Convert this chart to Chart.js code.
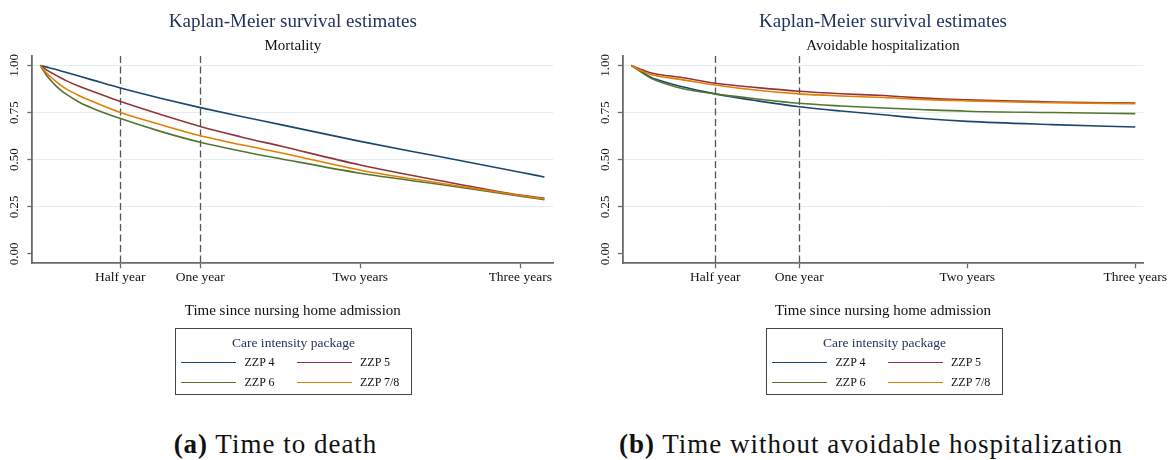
<!DOCTYPE html>
<html lang="en">
<head>
<meta charset="UTF-8">
<title>Kaplan-Meier survival estimates</title>
<script src="https://cdn.jsdelivr.net/npm/chart.js"></script>
<style>
    body {
        margin: 0;
        width: 1168px;
        height: 460px;
        overflow: hidden;
        position: relative;
        background: #fff;
        font-family: 'Liberation Serif', serif;
        color: #111;
    }
    canvas { position: absolute; top: 0; }
    #kmDeath { left: 0; }
    #kmHosp { left: 584px; }
    .lg-box {
        position: absolute;
        top: 328px;
        width: 237px;
        height: 67px;
        box-sizing: border-box;
        border: 1px solid #444;
    }
    .lg-title {
        position: absolute;
        width: 237px;
        text-align: center;
        font-size: 13.5px;
        line-height: 20px;
        color: #1f2f5e;
        white-space: nowrap;
    }
    .lg-swatch { position: absolute; height: 1.6px; width: 54.5px; }
    .lg-label {
        position: absolute;
        font-size: 12px;
        line-height: 20px;
        white-space: nowrap;
    }
    .caption {
        position: absolute;
        top: 428.5px;
        width: 600px;
        text-align: center;
        font-size: 27px;
        line-height: 30px;
        letter-spacing: 1px;
        white-space: nowrap;
    }
</style>
</head>
<body>

<canvas id="kmDeath" width="584" height="330"></canvas>
<canvas id="kmHosp" width="584" height="330"></canvas>

<div class="caption" style="left:-24.5px"><b>(a)</b> Time to death</div>
<div class="caption" style="left:571px"><b>(b)</b> Time without avoidable hospitalization</div>

<script>
    // series
    const seriesNames = ["ZZP 4", "ZZP 5", "ZZP 6", "ZZP 7/8"];
    const seriesColors = ["#1a476f", "#90353b", "#55752f", "#e37e00"];

    // axis ticks (x in days since admission)
    const xTickDays = [182.5, 365, 730, 1095];
    const xTickLabels = ["Half year", "One year", "Two years", "Three years"];
    const yTicks = [0, 0.25, 0.5, 0.75, 1];
    const yTickLabels = ["0.00", "0.25", "0.50", "0.75", "1.00"];
    const refLineDays = [182.5, 365];

    // (a) mortality, survival estimates
    const deathDays = [0, 15, 30, 45, 60, 90, 120, 183, 274, 365, 456, 548, 730, 913, 1095, 1150];
    const deathZzp4 = [1, 0.991, 0.982, 0.972, 0.962, 0.942, 0.922, 0.880, 0.826, 0.776, 0.730, 0.686, 0.597, 0.515, 0.433, 0.408];
    const deathZzp5 = [1, 0.975, 0.955, 0.936, 0.918, 0.888, 0.862, 0.808, 0.740, 0.676, 0.622, 0.572, 0.472, 0.388, 0.312, 0.295];
    const deathZzp6 = [1, 0.945, 0.905, 0.872, 0.846, 0.803, 0.772, 0.718, 0.650, 0.592, 0.546, 0.505, 0.428, 0.368, 0.306, 0.288];
    const deathZzp78 = [1, 0.958, 0.926, 0.898, 0.874, 0.838, 0.808, 0.750, 0.686, 0.627, 0.580, 0.537, 0.444, 0.375, 0.310, 0.292];

    // (b) avoidable hospitalization
    const hospDays = [0, 15, 44, 60, 106, 182, 274, 365, 456, 548, 627, 730, 913, 1095];
    const hospZzp4 = [1, 0.978, 0.935, 0.921, 0.889, 0.849, 0.812, 0.781, 0.758, 0.738, 0.720, 0.703, 0.686, 0.673];
    const hospZzp5 = [1, 0.985, 0.960, 0.952, 0.937, 0.905, 0.882, 0.863, 0.850, 0.840, 0.828, 0.817, 0.806, 0.800];
    const hospZzp6 = [1, 0.975, 0.930, 0.915, 0.880, 0.849, 0.822, 0.799, 0.785, 0.774, 0.766, 0.757, 0.750, 0.744];
    const hospZzp78 = [1, 0.980, 0.951, 0.943, 0.926, 0.896, 0.868, 0.849, 0.838, 0.830, 0.820, 0.812, 0.802, 0.797];

    const navy = "#1f2f5e";
    const axisGray = "#6a6a6a";
    const gridColor = "#e4edf0";

    Chart.defaults.font.family = "'Liberation Serif', serif";
    Chart.defaults.color = "#111";

    // dashed vertical lines at half a year and one year
    const refLines = {
        id: "refLines",
        beforeDatasetsDraw(chart) {
            const { ctx, chartArea, scales } = chart;
            ctx.save();
            ctx.strokeStyle = "#555";
            ctx.lineWidth = 1.3;
            ctx.setLineDash([7, 3.5]);
            refLineDays.forEach(d => {
                const px = Math.round(scales.x.getPixelForValue(d)) + 0.5;
                ctx.beginPath();
                ctx.moveTo(px, chartArea.top);
                ctx.lineTo(px, chartArea.bottom);
                ctx.stroke();
            });
            ctx.restore();
        }
    };

    function makeChart(id, subtitle, days, series, xMin, xMax, yAxisWidth, padRight) {
        new Chart(document.getElementById(id), {
            type: "line",
            data: {
                datasets: series.map((vals, i) => ({
                    label: seriesNames[i],
                    data: days.map((d, k) => ({ x: d, y: vals[k] })),
                    borderColor: seriesColors[i],
                    borderWidth: 1.6,
                    pointRadius: 0,
                    cubicInterpolationMode: "monotone",
                    order: series.length - i
                }))
            },
            options: {
                responsive: false,
                animation: false,
                events: [],
                layout: { padding: { left: 0, right: padRight, top: 0, bottom: 0 } },
                plugins: {
                    legend: { display: false },
                    tooltip: { enabled: false },
                    title: {
                        display: true,
                        fullSize: false,
                        text: "Kaplan-Meier survival estimates",
                        color: navy,
                        font: { size: 19, weight: "normal" },
                        padding: { top: 10.4, bottom: 0 }
                    },
                    subtitle: {
                        display: true,
                        fullSize: false,
                        text: subtitle,
                        color: "#111",
                        font: { size: 15 },
                        padding: { top: 3.8, bottom: 1 }
                    }
                },
                scales: {
                    x: {
                        type: "linear",
                        min: xMin,
                        max: xMax,
                        afterBuildTicks: s => { s.ticks = xTickDays.map(v => ({ value: v })); },
                        afterFit: s => { s.height = 66.7; s.paddingLeft = 0; s.paddingRight = 0; },
                        ticks: {
                            callback: v => xTickLabels[xTickDays.indexOf(v)],
                            autoSkip: false,
                            maxRotation: 0,
                            color: "#111",
                            font: { size: 13.5 },
                            padding: 1.3
                        },
                        grid: { drawOnChartArea: false, tickLength: 5, tickColor: axisGray, tickWidth: 1.3 },
                        border: { color: axisGray, width: 1.8 },
                        title: {
                            display: true,
                            text: "Time since nursing home admission",
                            color: "#111",
                            font: { size: 15 },
                            padding: { top: 0, bottom: 10.4 }
                        }
                    },
                    y: {
                        min: -0.05,
                        max: 1.05,
                        afterBuildTicks: s => { s.ticks = yTicks.map(v => ({ value: v })); },
                        afterFit: s => { s.width = yAxisWidth; s.paddingTop = 0; s.paddingBottom = 0; },
                        ticks: {
                            callback: v => yTickLabels[yTicks.indexOf(v)],
                            autoSkip: false,
                            minRotation: 90,
                            maxRotation: 90,
                            crossAlign: "center",
                            color: "#111",
                            font: { size: 13 },
                            padding: 1
                        },
                        grid: {
                            color: c => (c.tick && c.tick.value === 0) ? "rgba(0,0,0,0)" : gridColor,
                            lineWidth: 1,
                            tickLength: 5,
                            tickColor: axisGray,
                            tickWidth: 1.3
                        },
                        border: { color: axisGray, width: 1.8 }
                    }
                }
            },
            plugins: [refLines]
        });
    }

    makeChart("kmDeath", "Mortality", deathDays,
        [deathZzp4, deathZzp5, deathZzp6, deathZzp78], -18.25, 1170.3, 32.3, 30.7);
    makeChart("kmHosp", "Avoidable hospitalization", hospDays,
        [hospZzp4, hospZzp5, hospZzp6, hospZzp78], -18.7, 1112.4, 38.7, 24.7);

    // legend boxes under each panel
    function addLegend(boxLeft) {
        const box = document.createElement("div");
        box.className = "lg-box";
        box.style.left = boxLeft + "px";
        document.body.appendChild(box);

        const title = document.createElement("div");
        title.className = "lg-title";
        title.textContent = "Care intensity package";
        title.style.left = boxLeft + "px";
        title.style.top = "333.1px";
        document.body.appendChild(title);

        const cols = [[6, 69.5], [122, 185]];
        const rows = [362.3, 382.3];
        seriesNames.forEach((name, i) => {
            const col = cols[i % 2];
            const rowY = rows[Math.floor(i / 2)];
            const sw = document.createElement("div");
            sw.className = "lg-swatch";
            sw.style.background = seriesColors[i];
            sw.style.left = (boxLeft + col[0]) + "px";
            sw.style.top = (rowY - 0.8) + "px";
            document.body.appendChild(sw);

            const lab = document.createElement("div");
            lab.className = "lg-label";
            lab.textContent = name;
            lab.style.left = (boxLeft + col[1]) + "px";
            lab.style.top = (rowY - 10.7) + "px";
            document.body.appendChild(lab);
        });
    }
    addLegend(175);
    addLegend(766);
</script>

</body>
</html>
